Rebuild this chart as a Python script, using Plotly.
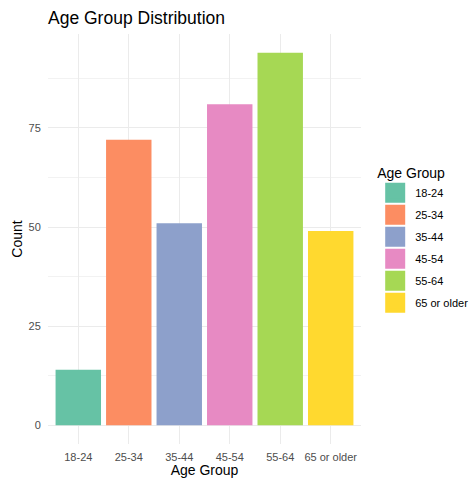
import plotly.graph_objects as go

categories = ["18-24", "25-34", "35-44", "45-54", "55-64", "65 or older"]
counts = [14, 72, 51, 81, 94, 49]
colors = ["#66C2A5", "#FC8D62", "#8DA0CB", "#E78AC3", "#A6D854", "#FFD92F"]
y_ticks = [0, 25, 50, 75]

fig = go.Figure()
for cat, val, col in zip(categories, counts, colors):
    fig.add_trace(go.Bar(
        x=[cat], y=[val], name=cat, marker=dict(color=col, line=dict(width=0)),
        width=0.9, legendgroup=cat, showlegend=False,
    ))
    # legend key (larger square, like ggplot's legend keys)
    fig.add_trace(go.Scatter(
        x=[None], y=[None], mode="markers", name=cat, legendgroup=cat,
        marker=dict(symbol="square", size=21, color=col, line=dict(width=4, color=col)),
        showlegend=True, hoverinfo="skip",
    ))

font = "Liberation Sans, Arial, sans-serif"
fig.update_layout(
    width=469, height=478,
    margin=dict(l=48, r=108, t=34, b=34, pad=0, autoexpand=False),
    plot_bgcolor="white", paper_bgcolor="white",
    barmode="overlay",
    font=dict(family=font, color="#4D4D4D", size=11),
    title=dict(text="Age Group Distribution", x=0, xref="paper", xanchor="left",
               y=0.962, yanchor="middle", font=dict(size=17.5, color="black", family=font)),
    showlegend=True,
    legend=dict(x=0.80, xref="container", xanchor="left", y=0.50, yanchor="middle",
                title=dict(text="Age Group", font=dict(size=14, color="black")),
                font=dict(size=11, color="black"), tracegroupgap=3,
                itemsizing="trace"),
    xaxis=dict(
        categoryorder="array", categoryarray=categories, automargin=False,
        range=[-0.6, 5.6], showgrid=True, gridcolor="#EBEBEB", gridwidth=1,
        ticks="outside", ticklen=3, tickcolor="rgba(0,0,0,0)",
        tickfont=dict(size=11, color="#4D4D4D"),
        title=dict(text="Age Group", font=dict(size=14, color="black"), standoff=4),
        zeroline=False, showline=False,
    ),
    yaxis=dict(
        range=[-4.7, 98.7], tickvals=y_ticks, showgrid=True, gridcolor="#EBEBEB",
        automargin=False,
        gridwidth=1, ticks="outside", ticklen=4, tickcolor="rgba(0,0,0,0)",
        tickfont=dict(size=11, color="#4D4D4D"),
        minor=dict(tickvals=[12.5, 37.5, 62.5, 87.5], showgrid=True,
                   gridcolor="#F2F2F2", gridwidth=0.6),
        title=dict(text="Count", font=dict(size=14, color="black"), standoff=2),
        zeroline=False, showline=False,
    ),
)

fig.write_html("out.html", config={"displayModeBar": False},
               post_script="document.body.style.margin='0';")
